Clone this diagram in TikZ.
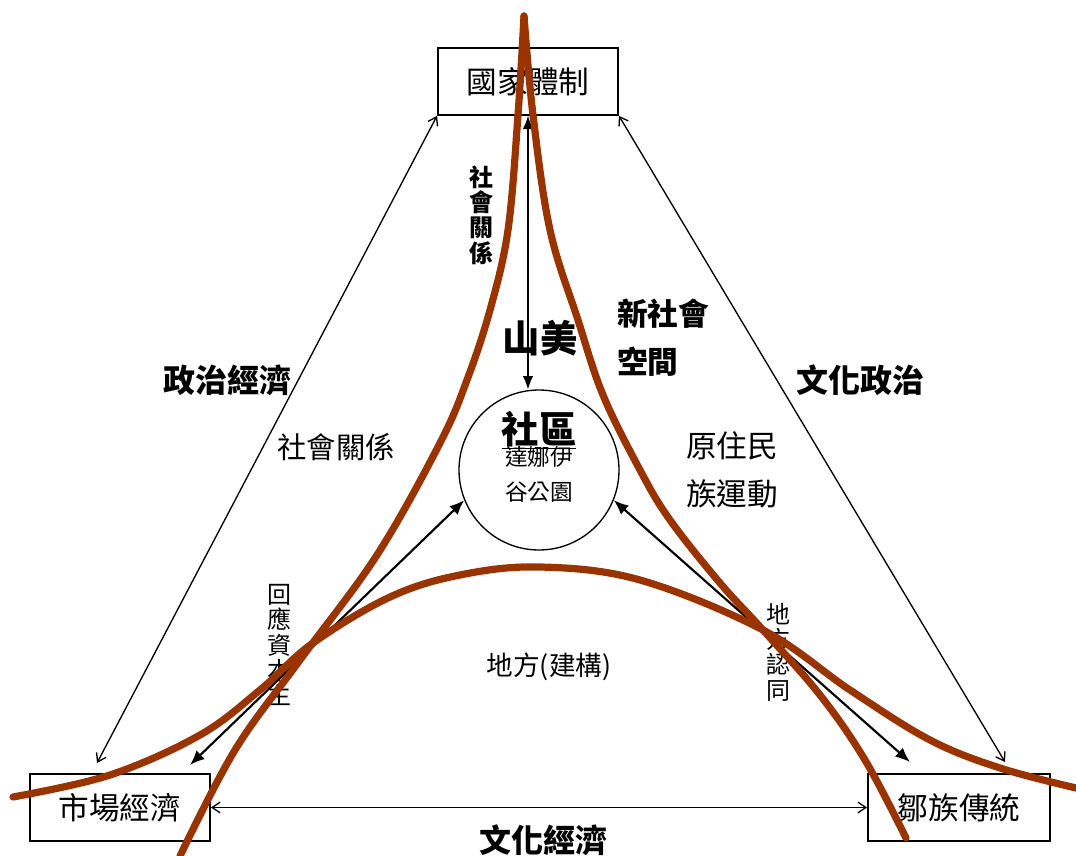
\documentclass[tikz,border=0pt]{standalone}
\usepackage{fontspec}
\setmainfont{Noto Sans CJK TC}
\usetikzlibrary{arrows.meta,calc,positioning}
\definecolor{rust}{RGB}{153,51,0}
\tikzset{%
	block/.style    = {draw, rectangle, line width=1.4pt, minimum width=135pt, minimum height=50pt, inner sep=0pt, font=\fontsize{23}{27}\selectfont},
	hub/.style      = {draw, circle, line width=1pt, minimum size=120pt, inner sep=0pt}, % community circle
	tag/.style      = {font=\bfseries\fontsize{24}{28}\selectfont, inner sep=0pt},
	note/.style     = {font=\fontsize{23}{36}\selectfont, align=left, inner sep=0pt},
	vtext/.style    = {font=\fontsize{18}{19}\selectfont, align=center, inner sep=0pt},
	link/.style     = {line width=1pt, {Straight Barb[length=6pt,width=8pt]}-{Straight Barb[length=6pt,width=8pt]}},
	flow/.style     = {line width=1.6pt, {Latex[length=11pt,width=9pt]}-{Latex[length=11pt,width=9pt]}},
	drop/.style     = {line width=1pt, {Latex[length=10pt,width=8pt]}-{Latex[length=10pt,width=8pt]}},
	sweep/.style    = {rust, line width=5.4pt, line cap=round},
}

\begin{document}
\begin{tikzpicture}[x=0.75pt,y=-0.75pt]
	\useasboundingbox (0,0) rectangle (1076,856);
	% corners
	\node [block] (state) at (528,81.5) {國家體制};
	\node [block] (market) at (120,807.5) {市場經濟};
	\node [block,minimum width=136.5pt] (tribe) at (959,807.5) {鄒族傳統};
	\node [hub] (hub) at (539,470) {};
	\coordinate (mktend) at (97,763);
	\coordinate (trbend) at (1005,762);
	\coordinate (mktin) at (190,765);
	\coordinate (trbin) at (910,762);
	
	\draw[link] (state.south west) -- (mktend);
	\draw[link] (state.south east) -- (trbend);
	\draw[link] (market.east) -- (tribe.west);
	\draw[drop] (state.south) -- (state.south |- hub.north);
	\draw[flow] (hub.202) -- (mktin);
	\draw[flow] (hub.338) -- (trbin);
	
	% labels
	\node [tag] (pe) at (227,380) {政治經濟};
	\node [tag] (cp) at (860,380) {文化政治};
	\node [tag] (ce) at (543,840) {文化經濟};
	\node [tag,font=\bfseries\fontsize{28}{32}\selectfont] (sm) at (540,338) {山美};
	\node [tag,font=\bfseries\fontsize{28}{32}\selectfont] (comm) at (539,430) {\underline{社區}};
	\node [inner sep=0pt,font=\fontsize{17}{20}\selectfont] (dana) at (539,457) {達娜伊};
	\node [inner sep=0pt,font=\fontsize{17}{20}\selectfont] (park) [below=26pt of dana.center,anchor=center] {谷公園};
	\node [note,font=\bfseries\fontsize{23}{36}\selectfont,anchor=west] (nss) at (617,338) {新社會\\空間};
	\node [note,anchor=west] (imm) at (686,470) {原住民\\族運動};
	\node [inner sep=0pt,font=\fontsize{22}{26}\selectfont] (sr) at (336,447) {社會關係};
	\node [inner sep=0pt,font=\fontsize{20}{24}\selectfont] (place) at (549,667) {地方(建構)};
	\node [vtext,font=\bfseries\fontsize{18}{19}\selectfont] (vsr) at (481,215) {社\\會\\關\\係};
	\node [vtext] (cap) at (279,645) {回\\應\\資\\本\\主};
	\node [vtext] (pid) at (778,652) {地\\方\\認\\同};
	
	% red curves
	\draw[sweep] plot[smooth,tension=0.6] coordinates {(524,16) (518,115) (508,230) (490,310) (467,380) (440,443) (377,555) (300,660) (235,750) (180,856)};
	\draw[sweep] plot[smooth,tension=0.6] coordinates {(524,16) (533,115) (550,230) (578,320) (603,395) (640,470) (670,520) (720,583) (763,630) (820,695) (865,760) (906,838)};
	\draw[sweep] plot[smooth,tension=0.6] coordinates {(13,797) (110,775) (200,735) (260,690) (313,643) (390,597) (460,575) (540,567) (640,580) (763,630) (850,690) (930,740) (1000,768) (1076,788)};
\end{tikzpicture}
\end{document}
